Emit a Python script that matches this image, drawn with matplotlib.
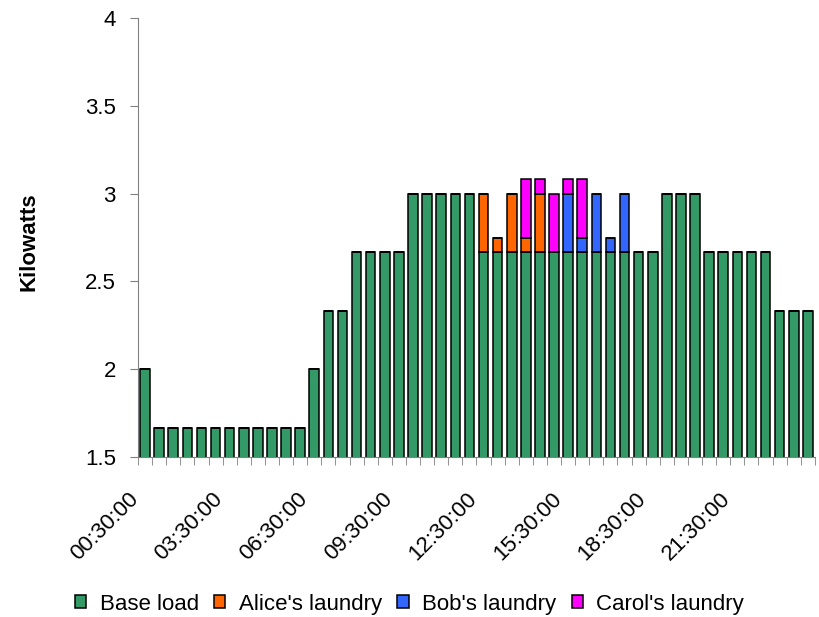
import matplotlib
matplotlib.use("Agg")
import matplotlib.pyplot as plt
import matplotlib.transforms as mtransforms
import numpy as np

plt.rcParams["font.family"] = ["Liberation Sans", "DejaVu Sans"]

# half-hour slots, 00:30 .. 24:00
slots = ["%02d:%02d:00" % divmod(30 * (i + 1), 60) for i in range(48)]

base_load = [2.0,
             1.667, 1.667, 1.667, 1.667, 1.667, 1.667, 1.667, 1.667, 1.667, 1.667, 1.667,
             2.0, 2.333, 2.333, 2.667, 2.667, 2.667, 2.667,
             3.0, 3.0, 3.0, 3.0, 3.0,
             2.667, 2.667, 2.667, 2.667, 2.667, 2.667, 2.667, 2.667, 2.667, 2.667,
             2.667, 2.667, 2.667,
             3.0, 3.0, 3.0,
             2.667, 2.667, 2.667, 2.667, 2.667,
             2.333, 2.333, 2.333]
alice = [0] * 24 + [0.333, 0.083, 0.333, 0.083, 0.333] + [0] * 19
bob = [0] * 30 + [0.333, 0.083, 0.333, 0.083, 0.333] + [0] * 13
carol = [0] * 27 + [0.333, 0.083, 0.333, 0.083, 0.333] + [0] * 16

series = [
    ("Base load", base_load, "#339966"),
    ("Alice's laundry", alice, "#FF6600"),
    ("Bob's laundry", bob, "#3366FF"),
    ("Carol's laundry", carol, "#FF00FF"),
]

fig = plt.figure(figsize=(8.19, 6.17), dpi=100)
ax = fig.add_axes([0.1685, 0.2593, 0.8265, 0.7115])

x = np.arange(len(slots))
bottom = np.zeros(len(slots))
for label, vals, color in series:
    vals = np.array(vals, dtype=float)
    ax.bar(x, vals, width=0.68, bottom=bottom, color=color,
           edgecolor="black", linewidth=1.1, label=label)
    bottom += vals

ax.set_xlim(-0.5, len(slots) - 0.5)
ax.set_ylim(1.5, 4)
ax.set_yticks([1.5, 2, 2.5, 3, 3.5, 4])
ax.set_yticklabels(["1.5", "2", "2.5", "3", "3.5", "4"])

# labels every 3 hours, tick marks between categories
ax.set_xticks(x[::6])
ax.set_xticklabels(slots[::6], rotation=45, ha="right", va="center",
                   rotation_mode="anchor")
ax.set_xticks(np.arange(-0.5, len(slots)), minor=True)
ax.tick_params(axis="x", which="major", length=0, pad=28)
ax.tick_params(axis="x", which="minor", length=6, color="#808080")
ax.tick_params(axis="y", length=6, color="#808080", pad=10)
ax.tick_params(labelsize=16)

# nudge the slanted labels a little to the left
shift = mtransforms.ScaledTranslation(-0.10, 0, fig.dpi_scale_trans)
for lbl in ax.get_xticklabels():
    lbl.set_transform(lbl.get_transform() + shift)

for side in ["top", "right"]:
    ax.spines[side].set_visible(False)
for side in ["left", "bottom"]:
    ax.spines[side].set_color("#808080")

ax.set_ylabel("Kilowatts", fontsize=16, fontweight="bold")
ax.yaxis.set_label_coords(-0.146, 0.49)

fig.legend(loc="center", bbox_to_anchor=(0.5, 0.021), ncol=4, frameon=False,
           fontsize=16, handlelength=0.5, handleheight=0.5, handletextpad=0.6,
           columnspacing=0.7)

fig.savefig("out.png", dpi=100)
